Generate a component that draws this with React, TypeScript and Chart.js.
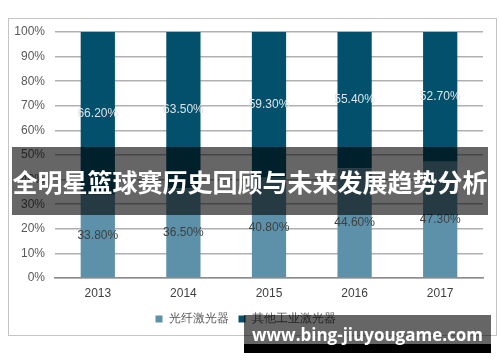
import React, { useEffect, useRef } from "react";
import { Chart, registerables } from "chart.js";

Chart.register(...registerables);

const years = ["2013", "2014", "2015", "2016", "2017"];
const fiberLaser = [33.8, 36.5, 40.8, 44.6, 47.3];
const otherLaser = [66.2, 63.5, 59.3, 55.4, 52.7];
const seriesNames = ["光纤激光器", "其他工业激光器"];
const yTicks = [0, 10, 20, 30, 40, 50, 60, 70, 80, 90, 100];
const bannerTitle = "全明星篮球赛历史回顾与未来发展趋势分析";
const watermark = "www.bing-jiuyougame.com";

const labelPlugin = {
  id: "segLabels",
  afterDatasetsDraw(chart: any) {
    const ctx = chart.ctx;
    ctx.save();
    ctx.font = "12px 'Liberation Sans', Arial, sans-serif";
    ctx.textAlign = "center";
    ctx.textBaseline = "middle";
    chart.data.datasets.forEach((ds: any, di: number) => {
      const meta = chart.getDatasetMeta(di);
      meta.data.forEach((el: any, i: number) => {
        const p = el.getProps(["x", "y", "base"], true);
        ctx.fillStyle = di === 0 ? "#404040" : "#dde3e6";
        ctx.fillText(ds.data[i].toFixed(2) + "%", p.x, (p.y + p.base) / 2);
      });
    });
    ctx.restore();
  },
};

export default function App() {
  const ref = useRef<HTMLCanvasElement | null>(null);
  useEffect(() => {
    if (!ref.current) return;
    const chart = new Chart(ref.current, {
      type: "bar",
      data: {
        labels: years,
        datasets: [
          { label: seriesNames[0], data: fiberLaser, backgroundColor: "#5c91a9", categoryPercentage: 1, barPercentage: 0.4 },
          { label: seriesNames[1], data: otherLaser, backgroundColor: "#02506b", categoryPercentage: 1, barPercentage: 0.4 },
        ],
      },
      options: {
        responsive: false,
        animation: false,
        layout: { padding: { left: 8, right: 17, top: 32, bottom: 27 } },
        plugins: {
          legend: {
            position: "bottom",
            labels: {
              boxWidth: 7,
              boxHeight: 7,
              padding: 10,
              color: "#595959",
              font: { size: 12, family: "'Liberation Sans', Arial, sans-serif" },
            },
          },
          tooltip: { enabled: false },
        },
        scales: {
          x: {
            stacked: true,
            grid: { display: false, drawTicks: false },
            border: { color: "#8c8c8c", width: 1.5 },
            ticks: { color: "#404040", padding: 8, font: { size: 12, family: "'Liberation Sans', Arial, sans-serif" } },
            afterFit: (s: any) => { s.height = 25; },
          },
          y: {
            stacked: true,
            min: 0,
            max: 100,
            afterBuildTicks: (s: any) => { s.ticks = yTicks.map((v) => ({ value: v })); },
            grid: { color: "#b0b0b0", lineWidth: 1.5, drawTicks: false },
            border: { display: false },
            ticks: {
              color: "#595959",
              padding: 10,
              font: { size: 12, family: "'Liberation Sans', Arial, sans-serif" },
              callback: (v: any) => v + "%",
            },
            afterFit: (s: any) => { s.width = 47; },
          },
        },
      },
      plugins: [labelPlugin],
    });
    return () => chart.destroy();
  }, []);

  return (
    <div style={{ position: "absolute", left: 0, top: 0, width: 500, height: 362, background: "#fff", overflow: "hidden" }}>
      <div style={{ position: "absolute", left: 8, top: 18, width: 489, height: 318, border: "1.5px solid #c4c4c4", boxSizing: "border-box" }} />
      <canvas ref={ref} width={500} height={362} style={{ position: "absolute", left: 0, top: 0 }} />
      <div
        style={{
          position: "absolute", left: 12, top: 147, width: 476, height: 68,
          background: "rgba(0,0,0,0.6)", color: "#fff", display: "flex", alignItems: "center", justifyContent: "center",
          fontFamily: "'Noto Sans CJK SC', sans-serif", fontWeight: 700, fontSize: 25, whiteSpace: "nowrap",
        }}
      >
        {bannerTitle}
      </div>
      <div style={{ position: "absolute", left: 244, top: 315, width: 247, height: 29, background: "rgba(0,0,0,0.6)" }} />
      <div style={{ position: "absolute", left: 244, top: 344, width: 247, height: 9, background: "#000" }} />
      <div
        style={{
          position: "absolute", left: 244, top: 322, width: 247, height: 26, lineHeight: "26px", textAlign: "center",
          color: "#fff", fontFamily: "'Open Sans', sans-serif", fontWeight: 700, fontSize: 17, whiteSpace: "nowrap",
        }}
      >
        {watermark}
      </div>
    </div>
  );
}
